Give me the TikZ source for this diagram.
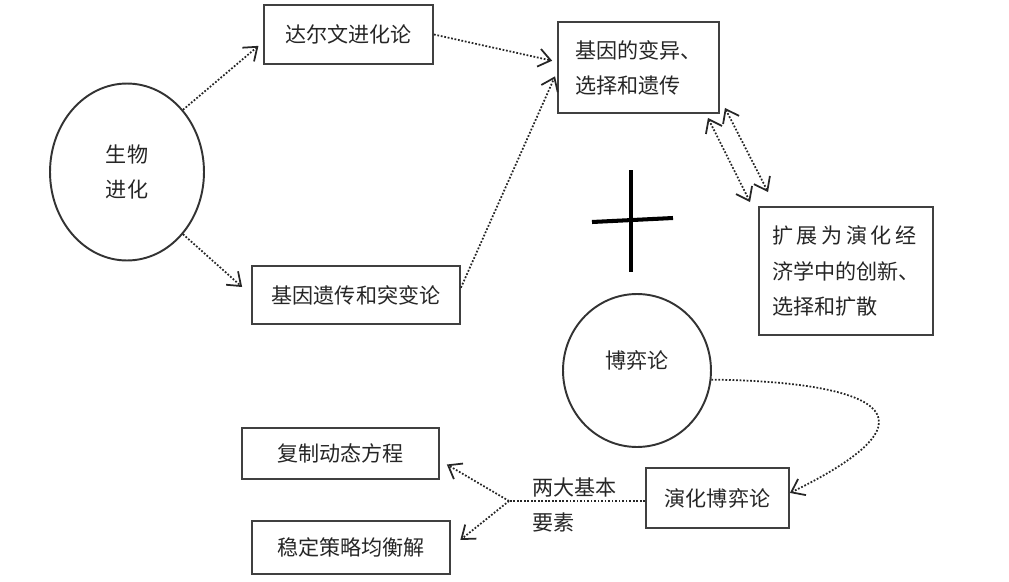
\documentclass[tikz,border=0pt]{standalone}
\usepackage{fontspec}
\setmainfont{Noto Sans CJK SC}
\usetikzlibrary{arrows.meta,shapes.geometric,calc}

\begin{document}
\begin{tikzpicture}[x=0.02cm,y=-0.02cm,>={Straight Barb[length=0.24cm,width=0.36cm]}]
	\useasboundingbox (0,0) rectangle (1009,582);
	\tikzstyle{every node}=[font=\fontsize{12}{20}\selectfont,text=black!85,align=left,inner sep=0pt]
	\tikzstyle{kuang}=[draw=black!75,line width=1.1pt]
	\tikzstyle{quan}=[ellipse,draw=black!80,line width=1.1pt]
	\tikzstyle{xuxian}=[densely dotted,line width=1pt,draw=black!85]
	\node[quan,minimum width=3.08cm,minimum height=3.54cm] (shengwu) at (127,172) {生物\\进化};
	\node[kuang,minimum width=3.38cm,minimum height=1.18cm] (darwin) at (348.5,34.5) {达尔文进化论};
	\node[kuang,minimum width=4.16cm,minimum height=1.16cm] (jiyin) at (356,295) {基因遗传和突变论};
	\node[kuang,minimum width=3.22cm,minimum height=1.82cm] (bianyi) at (638.5,67.5) {基因的变异、\\选择和遗传};
	\node[kuang,minimum width=3.48cm,minimum height=2.56cm] (kuozhan) at (846,271) {扩\,展\,为\,演\,化\,经\\济学中的创新、\\选择和扩散};
	\node[quan,minimum width=2.96cm,minimum height=3.06cm,text depth=0.45cm] (boyi) at (637,370.5) {博弈论};
	\node[kuang,minimum width=2.86cm,minimum height=1.2cm] (yanhua) at (717.5,498) {演化博弈论};
	\node[kuang,minimum width=3.94cm,minimum height=1.02cm] (fuzhi) at (340.5,453.5) {复制动态方程};
	\node[kuang,minimum width=3.96cm,minimum height=1.06cm] (wending) at (351,547.5) {稳定策略均衡解};
	\node[anchor=west] (yaosu) at (532,505) {两大基本\\要素};
	\coordinate (fencha) at (509,501);
	% plus sign
	\draw[line width=2.3pt] (631,170) -- (631,272);
	\draw[line width=2.3pt] (592,222) -- (673,218);
	\draw[xuxian,->,shorten >=0.12cm] (shengwu.48) -- (darwin.185);
	\draw[xuxian,->,shorten >=0.24cm] (shengwu.-48) -- (jiyin.west);
	\draw[xuxian,->,shorten >=0.1cm] (darwin.east) -- (bianyi.176);
	\draw[xuxian,->,shorten >=0.1cm] (jiyin.4) -- (bianyi.183);
	\draw[xuxian,<->] ($(bianyi.south east)+(-12,4)$) -- ($(kuozhan.north west)+(-8,-4)$);
	\draw[xuxian,<->] ($(bianyi.south east)+(5,-6)$) -- ($(kuozhan.north west)+(10,-14)$);
	\draw[xuxian,->] (boyi.-7) .. controls (840,381) and (970,405) .. (yanhua.4);
	\draw[xuxian] (fencha -| yanhua.west) -- (fencha);
	\draw[xuxian,->,shorten >=0.16cm] (fencha) -- (fuzhi.-4);
	\draw[xuxian,->,shorten >=0.24cm] (fencha) -- (wending.east);
\end{tikzpicture}
\end{document}
